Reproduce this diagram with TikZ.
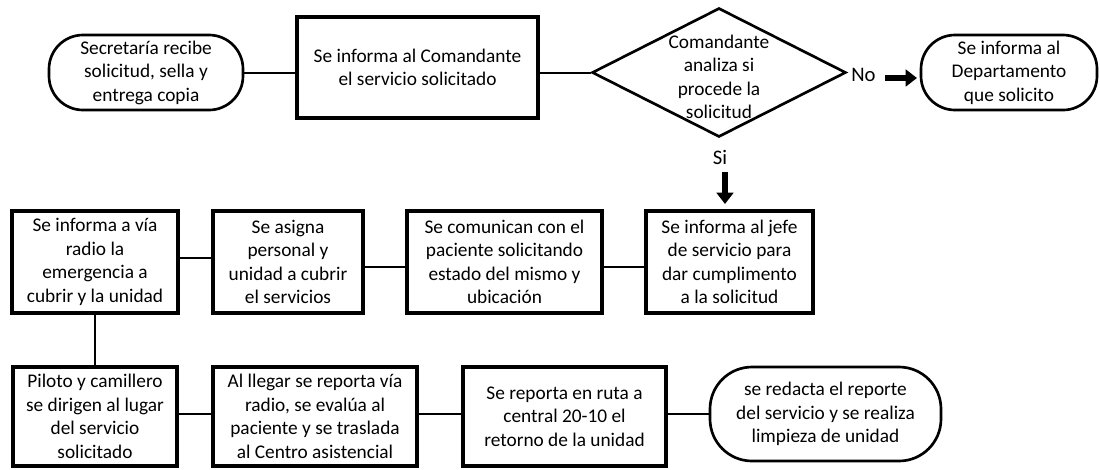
\documentclass[tikz,border=0pt]{standalone}
\usepackage{fontspec}
\setmainfont{Carlito}
\usetikzlibrary{arrows.meta,shapes.geometric}
\definecolor{FlowInk}{HTML}{000000}
\newdimen\px
\px=0.75pt

\begin{document}
\begin{tikzpicture}[
  x=0.75pt,y=-0.75pt,
  font=\fontsize{14.5}{17.6}\selectfont,
  text=FlowInk,
  processbox/.style={draw=FlowInk,line width=2.5pt,align=center,inner sep=0pt},
  terminal/.style={draw=FlowInk,line width=2pt,rounded corners=34\px,align=center,inner sep=0pt},
  decision/.style={draw=FlowInk,line width=2pt,diamond,inner sep=0pt},
  link/.style={draw=FlowInk,line width=1.5pt},
  fatarrow/.style={draw=FlowInk,line width=4pt,-{Triangle[length=8.5pt,width=12.5pt]}},
]
  \useasboundingbox (0,0) rectangle (1100,469);

  % fila superior
  \node[terminal,minimum width=194\px,minimum height=75\px] (recibe) at (146,72.5)
    {Secretaría recibe\\solicitud, sella y\\entrega copia};
  \node[processbox,minimum width=241\px,minimum height=101\px] (comandante) at (417.5,67.5)
    {Se informa al Comandante\\el servicio solicitado};
  \node[decision,minimum width=254\px,minimum height=129\px] (analiza) at (719,72.5) {};
  \node[align=center,inner sep=0pt] (analizatext) at (719,77)
    {Comandante\\analiza si\\procede la\\solicitud};
  \node[terminal,minimum width=176\px,minimum height=75\px] (departamento) at (1009,72.5)
    {Se informa al\\Departamento\\que solicito};
  \node[inner sep=0pt,font=\fontsize{15.5}{18}\selectfont] (no) at (863.5,75) {No};
  \node[inner sep=0pt,font=\fontsize{15.5}{18}\selectfont] (si) at (720,157) {Si};

  \coordinate (noTail) at (885,78);
  \coordinate (noTip) at (917,78);
  \coordinate (siTail) at (725,172);
  \coordinate (siTip) at (725,204);

  % fila central
  \node[processbox,minimum width=166\px,minimum height=102\px] (radio) at (95,262)
    {Se informa a vía\\radio la\\emergencia a\\cubrir y la unidad};
  \node[processbox,minimum width=150\px,minimum height=102\px] (asigna) at (288,262)
    {Se asigna\\personal y\\unidad a cubrir\\el servicios};
  \node[processbox,minimum width=195\px,minimum height=102\px] (comunican) at (504.5,262)
    {Se comunican con el\\paciente solicitando\\estado del mismo y\\ubicación};
  \node[processbox,minimum width=167\px,minimum height=102\px] (jefe) at (729.5,262)
    {Se informa al jefe\\de servicio para\\dar cumplimento\\a la solicitud};

  % fila inferior
  \node[processbox,minimum width=164\px,minimum height=99\px] (piloto) at (95,416.5)
    {Piloto y camillero\\se dirigen al lugar\\del servicio\\solicitado};
  \node[processbox,minimum width=204\px,minimum height=99\px] (llegar) at (315,416.5)
    {Al llegar se reporta vía\\radio, se evalúa al\\paciente y se traslada\\al Centro asistencial};
  \node[processbox,minimum width=203\px,minimum height=99\px] (ruta) at (564.5,416.5)
    {Se reporta en ruta a\\central 20-10 el\\retorno de la unidad};
  \node[terminal,rounded corners=42\px,minimum width=231\px,minimum height=94\px] (limpieza) at (825.5,414)
    {se redacta el reporte\\del servicio y se realiza\\limpieza de unidad};

  % conectores
  \draw[link] (recibe.east) -- (recibe.east -| comandante.west);
  \draw[link] (analiza.west -| comandante.east) -- (analiza.west);
  \draw[fatarrow] (noTail) -- (noTip);
  \draw[fatarrow] (siTail) -- (siTip);
  \draw[link] ([yshift=4\px]radio.east) -- ([yshift=4\px]radio.east -| asigna.west);
  \draw[link] ([yshift=-5\px]asigna.east) -- ([yshift=-5\px]asigna.east -| comunican.west);
  \draw[link] ([yshift=-5\px]comunican.east) -- ([yshift=-5\px]comunican.east -| jefe.west);
  \draw[link] (radio.south) -- (piloto.north);
  \draw[link] (piloto.east |- limpieza.west) -- (llegar.west |- limpieza.west);
  \draw[link] (llegar.east |- limpieza.west) -- (ruta.west |- limpieza.west);
  \draw[link] (ruta.east |- limpieza.west) -- (limpieza.west);
\end{tikzpicture}
\end{document}
